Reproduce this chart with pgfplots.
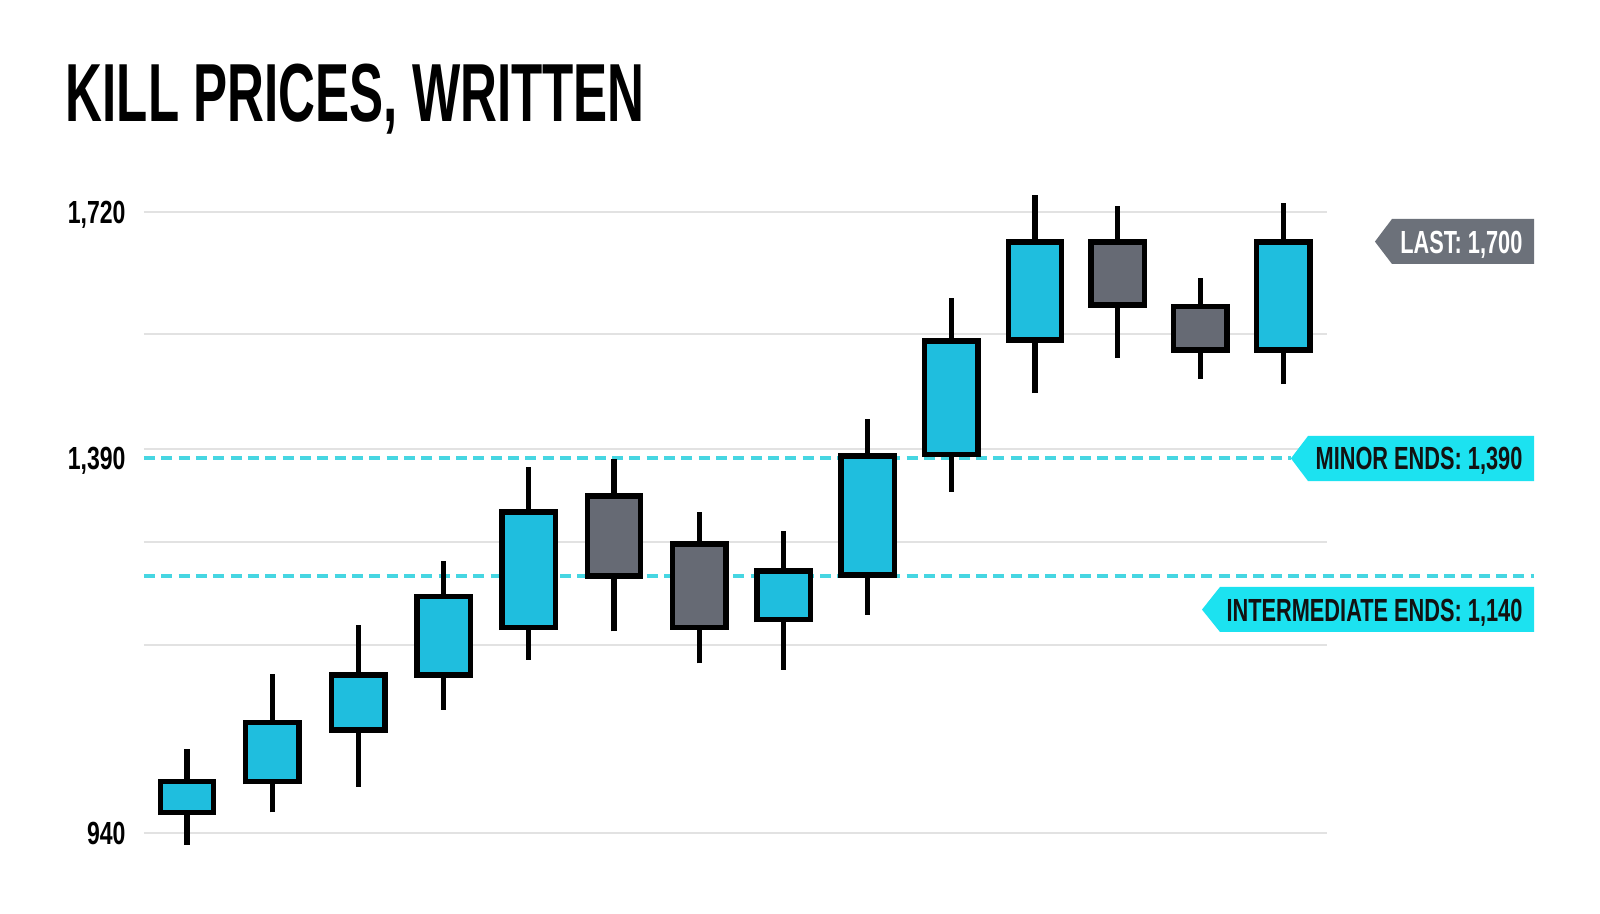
\documentclass[border=0pt]{standalone}
\usepackage{pgfplots}
\pgfplotsset{compat=1.18}
\usepackage{fontspec}
\setmainfont{Liberation Sans}
\newfontfamily\titlefont{Liberation Sans}[FakeStretch=0.62]
\newfontfamily\tagfont{Liberation Sans}[FakeStretch=0.68]
\newfontfamily\tickfont{Liberation Sans}[FakeStretch=0.72]

\definecolor{candleup}{RGB}{31,190,222}
\definecolor{candledown}{RGB}{102,106,116}
\definecolor{levelline}{RGB}{70,214,226}
\definecolor{tagcyan}{RGB}{28,226,240}
\definecolor{taggray}{RGB}{108,113,122}
\definecolor{gridgray}{RGB}{226,226,226}

% one candle: x, open, high, low, close, fill colour
\newcommand\candle[6]{%
  \addplot[black, line width=1.9pt] coordinates {(#1,#4) (#1,#3)};
  \addplot[black, line width=22.1pt, shorten <=-1.03pt, shorten >=-1.03pt] coordinates {(#1,#2) (#1,#5)};
  \addplot[#6, line width=18pt, shorten <=1.03pt, shorten >=1.03pt] coordinates {(#1,#2) (#1,#5)};
}

\begin{document}
\begin{tikzpicture}
\path[use as bounding box, fill=white] (-54pt,-20.25pt) rectangle (546pt,322.5pt);
\node[anchor=base west, inner sep=0pt, font=\titlefont\bfseries\fontsize{30.9}{36}\selectfont] at (-29.5pt,276.75pt) {KILL PRICES, WRITTEN};
\begin{axis}[
  at={(0pt,0pt)}, anchor=south west,
  scale only axis, width=443.6pt, height=255pt,
  xmin=0.49, xmax=14.51, ymin=919, ymax=1762.9,
  % the price scale is drawn unevenly: pieces between 940, 1140, 1390 and 1720
  y coord trafo/.code={%
    \begingroup
    \pgfkeys{/pgf/fpu=true,/pgf/fpu/output format=fixed}%
    \pgfmathparse{(#1<=1140) ? ((#1-940)*1.285) : ((#1<=1390) ? (257+(#1-1140)*0.472) : (375+(#1-1390)*0.7455))}%
    \global\let\killtrafo\pgfmathresult
    \endgroup
    \let\pgfmathresult\killtrafo
  },
  axis line style={draw=none},
  major tick length=0pt,
  xtick=\empty,
  ytick={940,1390,1720},
  yticklabels={940,{1,390},{1,720}},
  yticklabel style={font=\tickfont\bfseries\fontsize{12}{14}\selectfont, anchor=base east, inner sep=0pt, xshift=-6.75pt, yshift=-4.3pt},
  extra y ticks={940,1086.3,1212,1402.1,1556.3,1720},
  extra y tick labels={},
  extra y tick style={grid=major},
  major grid style={gridgray, line width=0.75pt},
  clip=false,
]
\addplot[levelline, line width=1.5pt, dash pattern=on 4.1pt off 2.4pt] coordinates {(0.49,1390) (14.08,1390)};
\addplot[levelline, line width=1.5pt, dash pattern=on 4.1pt off 2.4pt] coordinates {(0.49,1140) (16.96,1140)};

\candle{1}{956}{1005}{931}{980}{candleup}
\candle{2.01}{980}{1064}{956}{1026}{candleup}
\candle{3.03}{1020}{1102}{976}{1063}{candleup}
\candle{4.04}{1063}{1172}{1036}{1124}{candleup}
\candle{5.05}{1100}{1371}{1075}{1276}{candleup}
\candle{6.06}{1310}{1388}{1097}{1140}{candledown}
\candle{7.07}{1208}{1276}{1072}{1100}{candledown}
\candle{8.07}{1106}{1235}{1067}{1151}{candleup}
\candle{9.07}{1142}{1442}{1110}{1393}{candleup}
\candle{10.06}{1395}{1605}{1318}{1547}{candleup}
\candle{11.05}{1548}{1743}{1477}{1680}{candleup}
\candle{12.03}{1680}{1728}{1524}{1595}{candledown}
\candle{13.01}{1593}{1632}{1496}{1535}{candledown}
\candle{13.99}{1535}{1732}{1489}{1680}{candleup}
\end{axis}

\fill[taggray] (461.6pt,231.9pt) -- (468pt,240.4pt) -- (521.25pt,240.4pt) -- (521.25pt,223.5pt) -- (468pt,223.5pt) -- cycle;
\node[anchor=base east, inner sep=0pt, text=white, font=\tagfont\bfseries\fontsize{12}{14}\selectfont] at (517.1pt,227.6pt) {LAST: 1,700};

\fill[tagcyan] (430.1pt,150.6pt) -- (436.5pt,159pt) -- (521.25pt,159pt) -- (521.25pt,142.1pt) -- (436.5pt,142.1pt) -- cycle;
\node[anchor=base east, inner sep=0pt, text=black!93, font=\tagfont\bfseries\fontsize{12}{14}\selectfont] at (517.1pt,146.3pt) {MINOR ENDS: 1,390};

\fill[tagcyan] (396.75pt,93.9pt) -- (403.5pt,102.4pt) -- (521.25pt,102.4pt) -- (521.25pt,85.5pt) -- (403.5pt,85.5pt) -- cycle;
\node[anchor=base east, inner sep=0pt, text=black!93, font=\tagfont\bfseries\fontsize{12}{14}\selectfont] at (517.1pt,89.6pt) {INTERMEDIATE ENDS: 1,140};
\end{tikzpicture}
\end{document}
